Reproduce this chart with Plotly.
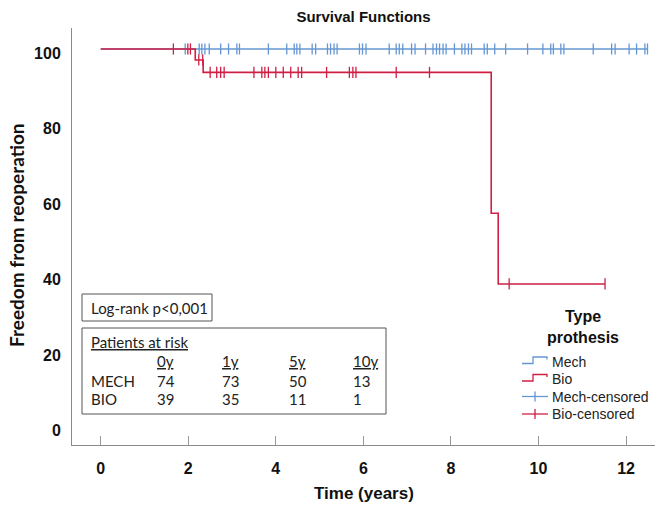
import numpy as np
import plotly.graph_objects as go

# ---------------- data ----------------
mech_event_times = [0.0]
mech_surv = [100.0]
mech_end = 12.49
mech_censor_times = [1.93, 2.25, 2.31, 2.38, 2.48, 2.74, 2.92, 3.11, 3.17, 3.83,
                     4.25, 4.42, 4.48, 4.55, 4.83, 4.91, 5.18, 5.25, 5.33, 5.40,
                     5.91, 5.98, 6.06, 6.59, 6.75, 6.82, 6.90, 7.10, 7.18, 7.42,
                     7.59, 7.67, 7.74, 7.82, 7.89, 8.08, 8.25, 8.32, 8.40, 8.47,
                     8.76, 8.83, 9.00, 9.25, 9.75, 10.10, 10.28, 10.34, 10.51, 10.58,
                     11.25, 11.67, 11.75, 12.07, 12.24, 12.43, 12.49]

bio_event_times = [0.0, 2.16, 2.34, 8.92, 9.08]
bio_surv = [100.0, 97.1, 93.8, 56.5, 37.8]
bio_end = 11.52
bio_censor_times = [1.66, 1.99, 2.05, 2.24, 2.33, 2.50, 2.65, 2.74, 2.82,
                    3.50, 3.68, 3.75, 3.83, 4.00, 4.17, 4.34, 4.51, 4.59,
                    5.16, 5.68, 5.76, 5.83, 6.75, 7.51, 9.33, 11.52]

x_ticks = [0, 2, 4, 6, 8, 10, 12]
y_ticks = [0, 20, 40, 60, 80, 100]

risk_cols = ["0y", "1y", "5y", "10y"]
risk_mech = [74, 73, 50, 13]
risk_bio = [39, 35, 11, 1]

BLUE = "#6597d4"
RED = "#cf1f45"


def step_at(times, surv, t):
    idx = np.searchsorted(np.array(times), np.array(t), side="right") - 1
    return np.array(surv)[idx]


fig = go.Figure()

for name, times, surv, end, ctimes, col in [
    ("Mech", mech_event_times, mech_surv, mech_end, mech_censor_times, BLUE),
    ("Bio", bio_event_times, bio_surv, bio_end, bio_censor_times, RED),
]:
    xs = list(times) + [end]
    ys = list(surv) + [surv[-1]]
    fig.add_trace(go.Scatter(x=xs, y=ys, mode="lines", line=dict(color=col, width=1.6, shape="hv"),
                             name=name, showlegend=False, hoverinfo="skip"))
    fig.add_trace(go.Scatter(x=ctimes, y=step_at(times, surv, ctimes), mode="markers",
                             marker=dict(symbol="line-ns", size=8, line=dict(color=col, width=1.3)),
                             name=name + "-censored", showlegend=False))

# ---------------- layout geometry (pixels) ----------------
W, H = 666, 517
L, R, T, B = 72, 655, 28, 445


def px(x):
    return (x - L) / (R - L)


def py(y):
    return (B - y) / (B - T)


shapes = []
annotations = []

tfont = dict(family="Lato, Open Sans, sans-serif", size=15, color="#222222")

# Log-rank box
shapes.append(dict(type="rect", xref="paper", yref="paper", x0=px(82), x1=px(212), y0=py(321), y1=py(294),
                   line=dict(color="#555555", width=1), fillcolor="white"))
annotations.append(dict(text="Log-rank p&lt;0,001", xref="paper", yref="paper", x=px(88.5), y=py(307.5),
                        xanchor="left", yanchor="middle", showarrow=False, font=tfont))
# risk table box
shapes.append(dict(type="rect", xref="paper", yref="paper", x0=px(82), x1=px(386), y0=py(414), y1=py(328),
                   line=dict(color="#555555", width=1), fillcolor="white"))
annotations.append(dict(text="<u>Patients at risk</u>", xref="paper", yref="paper", x=px(88.5), y=py(342),
                        xanchor="left", yanchor="middle", showarrow=False, font=tfont))
col_x = [155, 220, 287, 351]
for cx, c, m, b in zip(col_x, risk_cols, risk_mech, risk_bio):
    annotations.append(dict(text="<u>%s</u>" % c, xref="paper", yref="paper", x=px(cx), y=py(361),
                            xanchor="left", yanchor="middle", showarrow=False, font=tfont))
    annotations.append(dict(text=str(m), xref="paper", yref="paper", x=px(cx), y=py(380.5),
                            xanchor="left", yanchor="middle", showarrow=False, font=tfont))
    annotations.append(dict(text=str(b), xref="paper", yref="paper", x=px(cx), y=py(399),
                            xanchor="left", yanchor="middle", showarrow=False, font=tfont))
annotations.append(dict(text="MECH", xref="paper", yref="paper", x=px(88.5), y=py(380.5),
                        xanchor="left", yanchor="middle", showarrow=False, font=tfont))
annotations.append(dict(text="BIO", xref="paper", yref="paper", x=px(88.5), y=py(399),
                        xanchor="left", yanchor="middle", showarrow=False, font=tfont))

# ---------------- manual legend ----------------
lfont = dict(family="Liberation Sans, Arial, sans-serif", size=14, color="#222222")
annotations.append(dict(text="<b>Type<br>prothesis</b>", xref="paper", yref="paper", x=px(583), y=py(327),
                        xanchor="center", yanchor="middle", showarrow=False, align="center",
                        font=dict(family="Liberation Sans, Arial, sans-serif", size=16, color="#111111")))
items = [("Mech", BLUE, "step", 361.5), ("Bio", RED, "step", 379), ("Mech-censored", BLUE, "cross", 396.5),
         ("Bio-censored", RED, "cross", 414)]
for label, col, kind, yy in items:
    if kind == "step":
        path = "M {} {} L {} {} L {} {} L {} {} L {} {}".format(
            px(522), py(yy + 2), px(533), py(yy + 2), px(533), py(yy - 4.5), px(547), py(yy - 4.5), px(547), py(yy - 2))
        shapes.append(dict(type="path", xref="paper", yref="paper", path=path, line=dict(color=col, width=1.3)))
    else:
        shapes.append(dict(type="line", xref="paper", yref="paper", x0=px(522), x1=px(548), y0=py(yy), y1=py(yy),
                           line=dict(color=col, width=1.3)))
        shapes.append(dict(type="line", xref="paper", yref="paper", x0=px(535), x1=px(535), y0=py(yy - 5), y1=py(yy + 5),
                           line=dict(color=col, width=1.3)))
    annotations.append(dict(text=label, xref="paper", yref="paper", x=px(550), y=py(yy),
                            xanchor="left", yanchor="middle", showarrow=False, font=lfont))

# axis titles
annotations.append(dict(text="<b>Time (years)</b>", xref="paper", yref="paper", x=px((L + R) / 2), y=py(493),
                        xanchor="center", yanchor="middle", showarrow=False,
                        font=dict(family="Liberation Sans, Arial, sans-serif", size=17, color="#111111")))
annotations.append(dict(text="<b>Freedom from reoperation</b>", xref="paper", yref="paper", x=px(16), y=py(235),
                        xanchor="center", yanchor="middle", showarrow=False, textangle=-90,
                        font=dict(family="Lato, Open Sans, sans-serif", size=19, color="#111111")))

tickfont = dict(family="Liberation Sans, Arial, sans-serif", size=16, color="#111111")

fig.update_layout(
    width=W, height=H,
    margin=dict(l=L, r=W - R, t=T, b=H - B, pad=0),
    paper_bgcolor="white", plot_bgcolor="white",
    title=dict(text="<b>Survival Functions</b>", x=(L + R) / 2 / W, xanchor="center", y=1 - 17 / H, yanchor="middle",
               font=dict(family="Liberation Sans, Arial, sans-serif", size=15, color="#111111")),
    shapes=shapes, annotations=annotations,
    showlegend=False,
)
fig.update_xaxes(range=[(L - 100.7) / 43.78, (R - 100.7) / 43.78], tickvals=x_ticks,
                 ticktext=[f"<b>{t}</b>" for t in x_ticks],
                 ticks="inside", ticklen=9, tickcolor="#9a9a9a", tickwidth=1,
                 showline=True, linecolor="#8a8a8a", linewidth=1, showgrid=False, zeroline=False,
                 tickfont=tickfont, ticklabelstandoff=9, automargin=False)
fig.update_yaxes(range=[100 - (B - 49) / 3.777, 100 + (49 - T) / 3.777], tickvals=y_ticks,
                 ticktext=[f"<b>{t}</b>" for t in y_ticks],
                 ticks="", showline=True, linecolor="#8a8a8a", linewidth=1, showgrid=False, zeroline=False,
                 tickfont=tickfont, ticklabelstandoff=7, ticklabelshift=4, automargin=False)

fig.write_html("out.html", config={"displayModeBar": False},
               post_script="document.body.style.margin='0';")
